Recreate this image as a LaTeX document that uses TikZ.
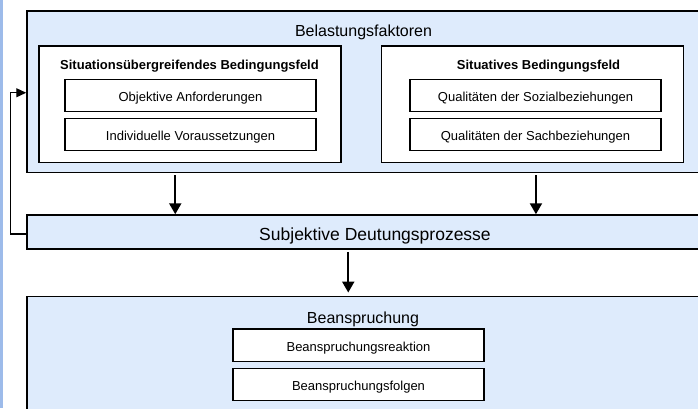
\documentclass[tikz,border=0pt]{standalone}
\usepackage{fontspec}
\setmainfont{Liberation Sans}
\usetikzlibrary{arrows.meta}
\definecolor{panelblue}{RGB}{222,235,252}
\definecolor{edgeblue}{RGB}{157,187,234}

\begin{document}
\begin{tikzpicture}[x=1pt, y=-1pt,
    every node/.append style={inner sep=0pt},
    panel/.style={draw, fill=panelblue, line width=1.5pt},
    field/.style={draw, fill=white, line width=1.4pt, minimum width=302pt, minimum height=116.5pt},
    item/.style={draw, fill=white, line width=1.4pt, minimum width=251pt, minimum height=32.5pt,
      text height=12pt, text depth=0pt, font=\fontsize{13}{15}\selectfont},
    flow/.style={-{Triangle[width=12pt,length=11pt]}, line width=2.1pt},
    back/.style={-{Triangle[width=9pt,length=10pt]}, line width=1.3pt}]
  \tikzstyle{heading} = [anchor=base, font=\fontsize{16}{19}\selectfont]
  \tikzstyle{fieldhead} = [anchor=base, font=\bfseries\fontsize{13}{15}\selectfont]
  \useasboundingbox (0,0) rectangle (698,408);
  \fill[edgeblue] (0,0) rectangle (3,408);
  % Belastungsfaktoren
  \node (belast) [panel, minimum width=671.5pt, minimum height=161.5pt] at (362.75,91.75) {};
  \node (belasttitle) [heading] at (363.5,36) {Belastungsfaktoren};
  \node (uebergreif) [field] at (190,104.25) {};
  \node (uebertitle) [fieldhead] at (189.5,69.5) {Situationsübergreifendes Bedingungsfeld};
  \node (objektiv) [item] at (190.5,95.5) {Objektive Anforderungen};
  \node (individ) [item] at (190.5,134.5) {Individuelle Voraussetzungen};
  \node (situativ) [field] at (532.5,104.25) {};
  \node (situtitle) [fieldhead] at (538.5,69.5) {Situatives Bedingungsfeld};
  \node (sozial) [item] at (535.5,95.5) {Qualitäten der Sozialbeziehungen};
  \node (sach) [item] at (535.5,134.5) {Qualitäten der Sachbeziehungen};
  % Deutung
  \node (subj) [panel, minimum width=671.5pt, minimum height=34pt] at (362.75,232) {};
  \node (subjtitle) [heading, font=\fontsize{17.5}{20}\selectfont] at (375,240) {Subjektive Deutungsprozesse};
  % Beanspruchung
  \node (beansp) [panel, minimum width=671.5pt, minimum height=124pt] at (362.75,358.3) {};
  \node (beansptitle) [heading] at (363,323) {Beanspruchung};
  \node (reaktion) [item] at (358.5,345.25) {Beanspruchungsreaktion};
  \node (folgen) [item] at (358.5,384.5) {Beanspruchungsfolgen};
  % Pfeile
  \draw[flow] ([xshift=149pt,yshift=-2pt]belast.south west) -- ([xshift=149pt]subj.north west);
  \draw[flow] ([xshift=509.7pt,yshift=-2pt]belast.south west) -- ([xshift=509.7pt]subj.north west);
  \draw[flow] ([xshift=322pt,yshift=-2pt]subj.south west) -- ([xshift=322pt,yshift=3pt]beansp.north west);
  \draw[back] ([yshift=-2pt]subj.west) -- ++(-16,0) |- ([yshift=-1pt]belast.west);
\end{tikzpicture}
\end{document}
